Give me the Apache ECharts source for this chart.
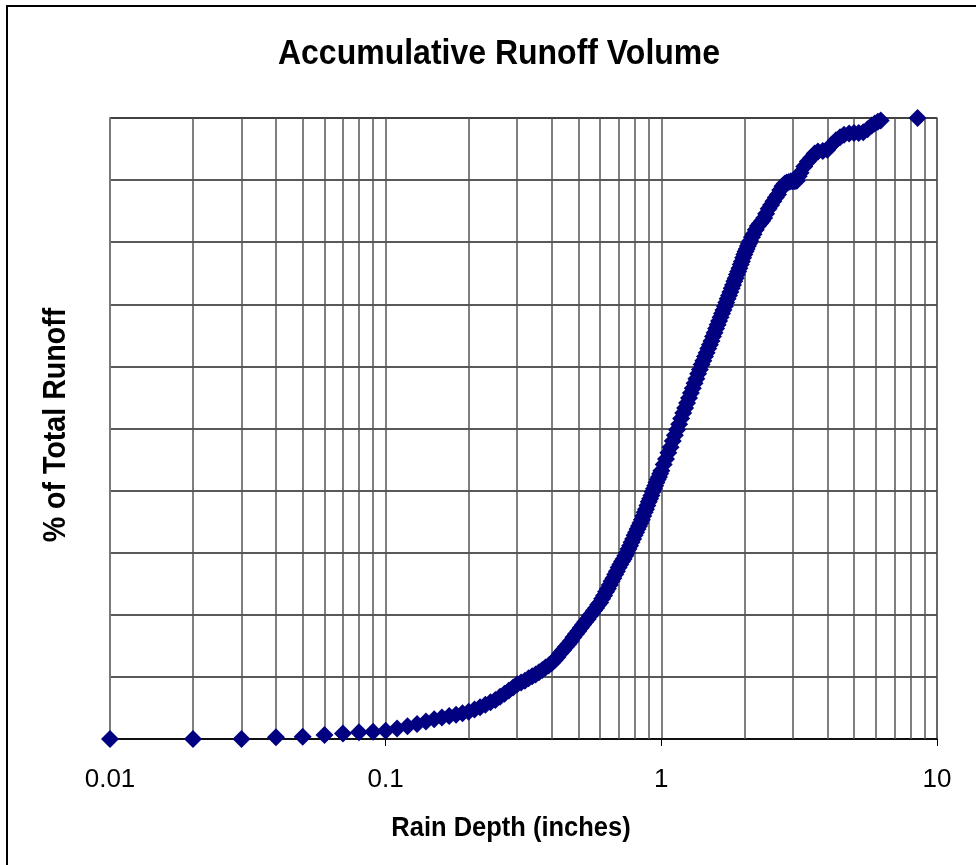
<!DOCTYPE html>
<html>
<head>
<meta charset="utf-8">
<title>Accumulative Runoff Volume</title>
<script src="https://cdn.jsdelivr.net/npm/echarts@6/dist/echarts.min.js"></script>
<style>
    html, body { margin: 0; padding: 0; background: #fff; }
    #runoff_chart { width: 976px; height: 865px; }
</style>
</head>
<body>
<div id="runoff_chart"></div>
<script>
"use strict";

// rain depth (inches)
var rainDepth = [
    0.01, 0.02, 0.03, 0.04, 0.05, 0.06, 0.07, 0.08, 0.09, 0.10,
    0.11, 0.12, 0.13, 0.14, 0.15, 0.16, 0.17, 0.18, 0.19, 0.20,
    0.21, 0.22, 0.23, 0.24, 0.25, 0.26, 0.27, 0.28, 0.29, 0.30,
    0.31, 0.32, 0.33, 0.34, 0.35, 0.36, 0.37, 0.38, 0.39, 0.40,
    0.41, 0.42, 0.43, 0.44, 0.45, 0.46, 0.47, 0.48, 0.49, 0.50,
    0.51, 0.52, 0.53, 0.54, 0.55, 0.56, 0.57, 0.58, 0.59, 0.60,
    0.61, 0.62, 0.63, 0.64, 0.65, 0.66, 0.67, 0.68, 0.69, 0.70,
    0.71, 0.72, 0.73, 0.74, 0.75, 0.76, 0.77, 0.78, 0.79, 0.80,
    0.81, 0.82, 0.83, 0.84, 0.85, 0.86, 0.87, 0.88, 0.89, 0.90,
    0.91, 0.92, 0.93, 0.94, 0.95, 0.96, 0.97, 0.98, 0.99, 1.00,
    1.02, 1.04, 1.06, 1.08, 1.10, 1.12, 1.14, 1.16, 1.18, 1.20,
    1.22, 1.24, 1.26, 1.28, 1.30, 1.32, 1.34, 1.36, 1.38, 1.40,
    1.42, 1.44, 1.46, 1.48, 1.50, 1.52, 1.54, 1.56, 1.58, 1.60,
    1.62, 1.64, 1.66, 1.68, 1.70, 1.72, 1.74, 1.76, 1.78, 1.80,
    1.82, 1.84, 1.86, 1.88, 1.90, 1.92, 1.94, 1.96, 1.98, 2.00,
    2.02, 2.04, 2.06, 2.08, 2.10, 2.13, 2.16, 2.20, 2.24, 2.28,
    2.32, 2.36, 2.40, 2.45, 2.50, 2.55, 2.60, 2.65, 2.70, 2.75,
    2.80, 2.85, 2.90, 2.95, 3.00, 3.05, 3.10, 3.15, 3.20, 3.30,
    3.40, 3.50, 3.60, 3.70, 3.85, 4.00, 4.15, 4.30, 4.45, 4.60,
    4.80, 5.00, 5.20, 5.40, 5.60, 5.80, 5.95, 6.10, 6.25, 8.50
];

// % of total runoff, same order as rainDepth
var runoffPct = [
    0, 0, 0, 0.27, 0.37, 0.64, 0.9, 1.07, 1.18, 1.34,
    1.7, 2.05, 2.4, 2.8, 3.2, 3.45, 3.7, 3.9, 4.15, 4.4,
    4.75, 5.1, 5.5, 5.9, 6.3, 6.8, 7.3, 7.8, 8.3, 8.8,
    9.1, 9.4, 9.8, 10.1, 10.4, 10.75, 11.1, 11.5, 11.85, 12.2,
    12.7, 13.2, 13.8, 14.3, 14.8, 15.3, 15.8, 16.4, 16.9, 17.4,
    17.9, 18.4, 18.9, 19.3, 19.8, 20.2, 20.7, 21.1, 21.6, 22.0,
    22.6, 23.1, 23.7, 24.2, 24.8, 25.4, 25.9, 26.5, 27.0, 27.6,
    28.1, 28.6, 29.0, 29.5, 30.0, 30.6, 31.1, 31.7, 32.2, 32.8,
    33.3, 33.8, 34.3, 34.8, 35.3, 35.9, 36.5, 37.0, 37.6, 38.2,
    38.7, 39.2, 39.8, 40.3, 40.8, 41.3, 41.8, 42.2, 42.7, 43.2,
    44.2, 45.1, 46.1, 47.0, 48.0, 48.9, 49.8, 50.7, 51.6, 52.5,
    53.3, 54.1, 54.9, 55.7, 56.5, 57.3, 58.0, 58.8, 59.5, 60.3,
    60.9, 61.6, 62.2, 62.9, 63.5, 64.1, 64.8, 65.4, 66.1, 66.7,
    67.3, 67.9, 68.5, 69.1, 69.7, 70.3, 70.9, 71.4, 72.0, 72.6,
    73.1, 73.7, 74.2, 74.8, 75.3, 75.8, 76.4, 76.9, 77.5, 78.0,
    78.5, 78.9, 79.4, 79.8, 80.2, 80.8, 81.3, 82.0, 82.6, 83.0,
    83.4, 83.9, 84.6, 85.4, 86.0, 86.6, 87.2, 87.7, 88.4, 89.0,
    89.4, 89.6, 89.7, 89.8, 89.8, 89.8, 89.9, 90.6, 91.2, 92.2,
    93.0, 93.6, 94.3, 94.6, 94.7, 94.9, 95.7, 96.4, 96.9, 97.3,
    97.5, 97.6, 97.6, 97.7, 98.2, 98.8, 99.1, 99.4, 99.6, 100
];

// minor gridlines between the decades
var minorTicks = [
    0.02, 0.03, 0.04, 0.05, 0.06, 0.07, 0.08, 0.09,
    0.2, 0.3, 0.4, 0.5, 0.6, 0.7, 0.8, 0.9,
    2, 3, 4, 5, 6, 7, 8, 9
];

var chartTitle = "Accumulative Runoff Volume";
var xTitle = "Rain Depth (inches)";
var yTitle = "% of Total Runoff";

var FONT = "'Liberation Sans', Arial, sans-serif";

var points = [];
for (var i = 0; i < rainDepth.length; i++) {
    points.push([rainDepth[i], runoffPct[i]]);
}

var minorLines = [];
for (var j = 0; j < minorTicks.length; j++) {
    minorLines.push({ xAxis: minorTicks[j] });
}

var chart = echarts.init(document.getElementById("runoff_chart"));

// text in the original is a little taller than plain Arial, so stretch it
function label(txt, x, y, size, sx, sy, rot) {
    return {
        type: "text",
        x: x,
        y: y,
        rotation: rot || 0,
        scaleX: sx,
        scaleY: sy,
        silent: true,
        style: {
            text: txt,
            fill: "#000",
            font: "bold " + size + "px " + FONT,
            align: "center",
            verticalAlign: "middle"
        }
    };
}

var option = {
    backgroundColor: "#fff",
    animation: false,
    graphic: [
        // outer frame of the chart
        {
            type: "rect",
            shape: { x: 7, y: 6, width: 1000, height: 900 },
            style: { fill: null, stroke: "#000", lineWidth: 2 },
            silent: true
        },
        label(chartTitle, 499, 54, 32, 1, 1.1),
        label(xTitle, 511, 828, 25.5, 1, 1.1),
        label(yTitle, 56, 425, 26, 1.1, 1.2, Math.PI / 2)
    ],
    grid: {
        left: 110,
        right: 39,
        top: 118,
        bottom: 126,
        show: true,
        borderColor: "#808080",
        borderWidth: 1.5
    },
    xAxis: {
        type: "log",
        logBase: 10,
        min: 0.01,
        max: 10,
        axisLine: { lineStyle: { color: "#000", width: 1.5 } },
        axisTick: { show: true, length: 7, lineStyle: { color: "#000" } },
        axisLabel: {
            margin: 28,
            fontFamily: FONT,
            fontSize: 26,
            color: "#000",
            formatter: function (v) { return String(v); }
        },
        splitLine: { show: true, lineStyle: { color: "#555", width: 1.5 } }
    },
    yAxis: {
        type: "value",
        min: 0,
        max: 100,
        interval: 10,
        axisLine: { show: true, lineStyle: { color: "#808080", width: 1.5 } },
        axisTick: { show: false },
        axisLabel: { show: false },
        splitLine: { show: true, lineStyle: { color: "#222", width: 1.5 } }
    },
    series: [{
        type: "scatter",
        data: points,
        symbol: "diamond",
        symbolSize: 18,
        itemStyle: { color: "#000080", opacity: 1 },
        markLine: {
            silent: true,
            symbol: "none",
            label: { show: false },
            lineStyle: { type: "solid", color: "#555", width: 1.5 },
            data: minorLines,
            z: 1
        }
    }]
};

chart.setOption(option);
</script>
</body>
</html>
